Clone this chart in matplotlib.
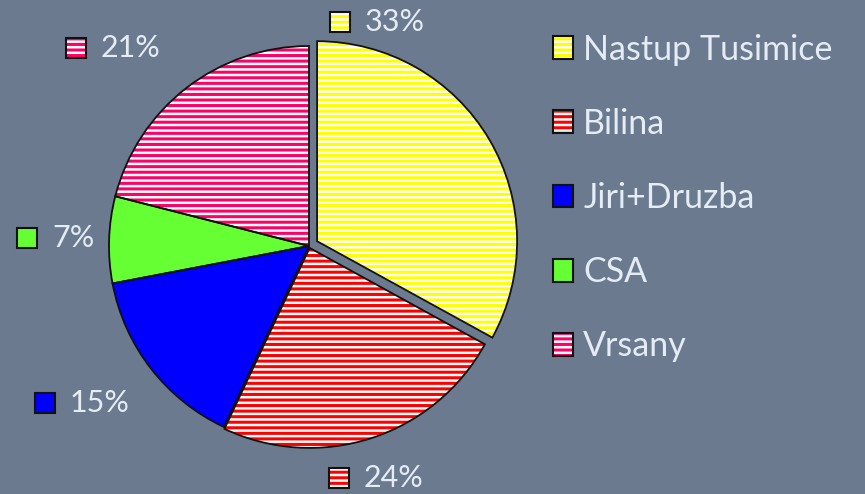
import matplotlib.pyplot as plt
from matplotlib.patches import Rectangle, Patch

# --- data ---
names = ["Nastup Tusimice", "Bilina", "Jiri+Druzba", "CSA", "Vrsany"]
shares = [33, 24, 15, 7, 21]
colors = ["#ffff00", "#ff0000", "#0000ff", "#66ff33", "#ff0066"]
hatches = ["---", "---", None, None, "---"]
explode = [0.047, 0.01, 0, 0, 0]

# label anchors (box centre) in data units, radius 1 = pie radius
label_xy = [(0.155, 1.1175), (0.15, -1.16), (-1.32, -0.785), (-1.41, 0.04), (-1.165, 0.99)]

bg = "#6b7a8f"
txt = "#e4ecf5"
plt.rcParams["font.family"] = ["Lato", "DejaVu Sans"]
plt.rcParams["hatch.linewidth"] = 1.8

fig = plt.figure(figsize=(8.65, 4.94), dpi=100, facecolor=bg)
ax = fig.add_axes([0, 0, 1, 1], facecolor=bg)

# fill
wedges, _ = ax.pie(shares, colors=colors, startangle=90, counterclock=False,
                   explode=explode, radius=1, wedgeprops=dict(linewidth=0))
# white hatch stripes
hw, _ = ax.pie(shares, colors=["none"] * 5, startangle=90, counterclock=False,
               explode=explode, radius=1,
               wedgeprops=dict(linewidth=0, edgecolor="white"))
for w, h in zip(hw, hatches):
    if h:
        w.set_hatch(h)
    else:
        w.set_visible(False)
# outlines
ow, _ = ax.pie(shares, colors=["none"] * 5, startangle=90, counterclock=False,
               explode=explode, radius=1,
               wedgeprops=dict(linewidth=1.3, edgecolor="#111111"))

ax.set_xlim(-1.545, 2.78)
ax.set_ylim(-1.24, 1.23)
ax.axis("off")


def box_handles(c, h):
    parts = [Patch(facecolor=c, linewidth=0)]
    if h:
        parts.append(Patch(facecolor="none", edgecolor="white", linewidth=0, hatch=h))
    parts.append(Patch(facecolor="none", edgecolor="#111111", linewidth=1.5))
    return tuple(parts)


# percentage labels with coloured boxes
bs = 0.1
for (x, y), v, c, h in zip(label_xy, shares, colors, hatches):
    ax.add_patch(Rectangle((x - bs / 2, y - bs / 2), bs, bs, facecolor=c, linewidth=0))
    if h:
        ax.add_patch(Rectangle((x - bs / 2, y - bs / 2), bs, bs, facecolor="none",
                               edgecolor="white", linewidth=0, hatch=h))
    ax.add_patch(Rectangle((x - bs / 2, y - bs / 2), bs, bs, facecolor="none",
                           edgecolor="#111111", linewidth=1.5))
    ax.text(x + 0.125, y, f"{v}%", color=txt, fontsize=22, va="center", ha="left")

handles = [box_handles(c, h) for c, h in zip(colors, hatches)]
leg = ax.legend(handles, names, loc="upper left", bbox_to_anchor=(0.639, 0.932),
                frameon=False, fontsize=24.5, labelcolor=txt,
                handlelength=0.6, handleheight=0.65, handletextpad=0.3,
                labelspacing=1.24, borderaxespad=0, borderpad=0)

fig.savefig("out.png", dpi=100, facecolor=bg)
